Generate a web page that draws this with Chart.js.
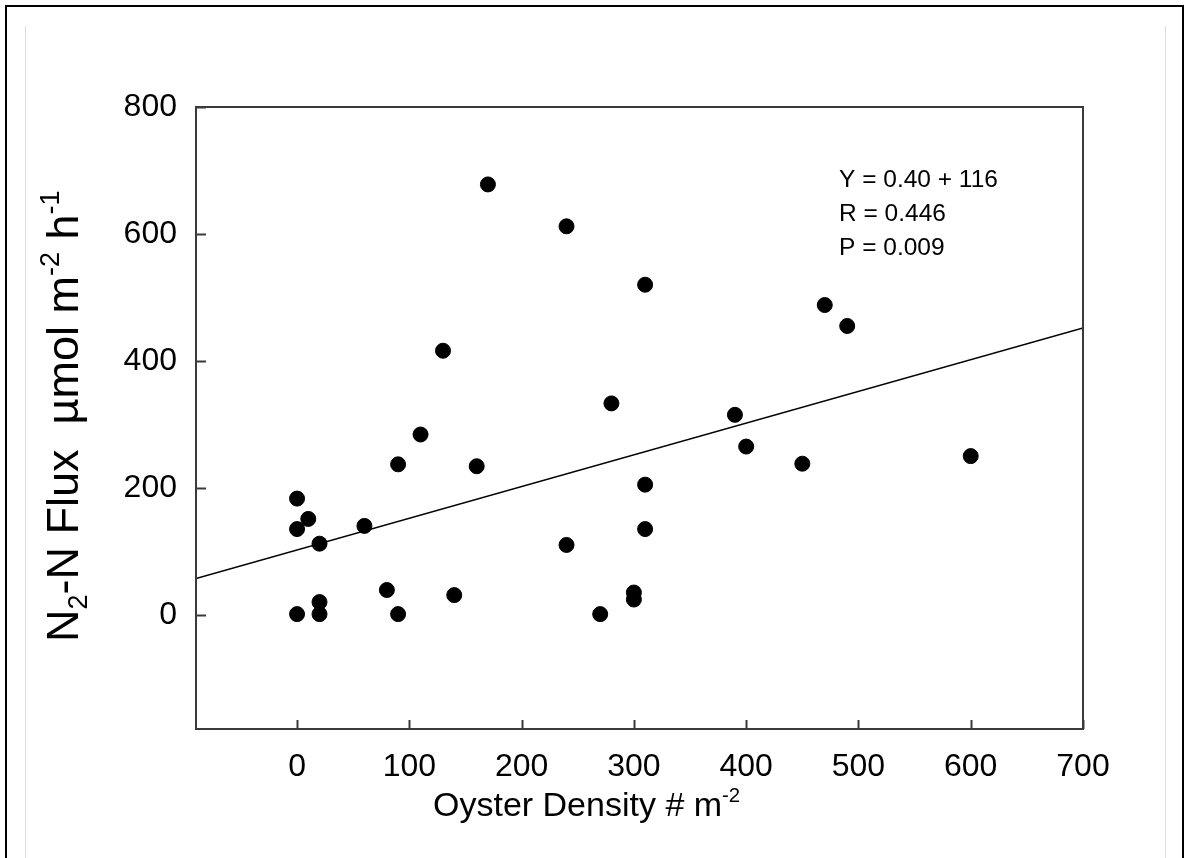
<!DOCTYPE html>
<html lang="en">
<head>
    <meta charset="UTF-8">
    <title>Oyster density vs N2-N flux</title>
    <script src="https://cdn.jsdelivr.net/npm/chart.js"></script>
    <style>
        body {
            margin: 0;
            padding: 0;
            background-color: #ffffff;
            font-family: "Liberation Sans", Arial, sans-serif;
        }

        .marco {
            position: absolute;
            left: 5px;
            top: 5px;
            width: 1179px;
            height: 900px;
            border: 2px solid #000;
            box-sizing: border-box;
        }

        .linea-gris {
            position: absolute;
            top: 26px;
            width: 1px;
            height: 840px;
            background-color: #dcdcdc;
        }

        canvas {
            position: absolute;
            left: 0;
            top: 0;
        }
    </style>
</head>
<body>

    <div class="marco"></div>
    <div class="linea-gris" style="left: 25px;"></div>
    <div class="linea-gris" style="left: 1165px;"></div>

    <canvas id="fluxChart" width="1187" height="858"></canvas>

    <script>
        // Data
        const oysterDensity = [170, 240, 130, 310, 470, 490, 280, 390,
                               110, 90, 160, 0, 10, 0, 60, 20, 240, 80, 140, 20, 0, 20, 90,
                               400, 450, 600, 310, 310, 300, 300, 270];
        const n2Flux = [678, 612, 416, 520, 488, 455, 333, 315,
                        284, 237, 234, 183, 151, 135, 140, 112, 110, 39, 31, 20, 1, 1, 1,
                        265, 238, 250, 205, 135, 35, 24, 1];

        // Regression line end points (as drawn)
        const fitLineX = [-90, 700];
        const fitLineY = [57, 452];

        // Axes
        const xTicks = [0, 100, 200, 300, 400, 500, 600, 700];
        const yTicks = [0, 200, 400, 600, 800];
        const xRange = [-90, 700];
        const yRange = [-180, 800];

        const statsText = ['Y = 0.40 + 116', 'R = 0.446', 'P = 0.009'];

        const FONT = '"Liberation Sans", Arial, sans-serif';

        // Text with sub/superscripts, parts = [[text, 'n'|'sub'|'sup'], ...]
        function drawRich(ctx, parts, x, y, size) {
            let cx = x;
            parts.forEach(([t, kind]) => {
                let s = size, dy = 0;
                if (kind === 'sub') { s = size * 0.6; dy = size * 0.2; }
                if (kind === 'sup') { s = size * 0.6; dy = -size * 0.42; }
                ctx.font = s + 'px ' + FONT;
                ctx.fillText(t, cx, y + dy);
                cx += ctx.measureText(t).width;
            });
            return cx - x;
        }

        const decoraciones = {
            id: 'decoraciones',
            afterDraw(chart) {
                const ctx = chart.ctx;
                const area = chart.chartArea;
                const xs = chart.scales.x;
                const ys = chart.scales.y;

                ctx.save();
                // frame
                ctx.strokeStyle = '#3a3a3a';
                ctx.lineWidth = 2;
                ctx.strokeRect(area.left, area.top, area.right - area.left, area.bottom - area.top);

                // inward tick marks
                ctx.beginPath();
                xTicks.forEach(v => {
                    const px = Math.round(xs.getPixelForValue(v)) + 0.5;
                    ctx.moveTo(px, area.bottom);
                    ctx.lineTo(px, area.bottom - 9);
                });
                yTicks.forEach(v => {
                    const py = Math.round(ys.getPixelForValue(v)) + 0.5;
                    ctx.moveTo(area.left, py);
                    ctx.lineTo(area.left + 10, py);
                });
                ctx.stroke();

                ctx.fillStyle = '#000';
                ctx.textBaseline = 'alphabetic';
                ctx.textAlign = 'left';

                // stats box
                ctx.font = '24.5px ' + FONT;
                statsText.forEach((t, i) => {
                    ctx.fillText(t, area.left + 643, area.top + 80 + i * 34);
                });

                // x title
                drawRich(ctx, [['Oyster Density # m', 'n'], ['-2', 'sup']], 433, 816, 34);

                // y title (rotated)
                ctx.translate(78, 642);
                ctx.rotate(-Math.PI / 2);
                drawRich(ctx, [
                    ['N', 'n'], ['2', 'sub'], ['-N Flux  \u00b5mol m', 'n'],
                    ['-2', 'sup'], [' h', 'n'], ['-1', 'sup']
                ], 0, 0, 45);
                ctx.restore();
            }
        };

        const ctx = document.getElementById('fluxChart').getContext('2d');

        const fluxChart = new Chart(ctx, {
            type: 'scatter',
            data: {
                datasets: [
                    {
                        type: 'line',
                        data: fitLineX.map((x, i) => ({ x: x, y: fitLineY[i] })),
                        borderColor: '#000',
                        borderWidth: 1.5,
                        pointRadius: 0,
                        fill: false,
                        order: 2
                    },
                    {
                        data: oysterDensity.map((x, i) => ({ x: x, y: n2Flux[i] })),
                        backgroundColor: '#000',
                        borderColor: '#000',
                        pointRadius: 7.5,
                        pointHoverRadius: 7.5,
                        order: 1
                    }
                ]
            },
            options: {
                responsive: false,
                animation: false,
                devicePixelRatio: 1,
                layout: {
                    padding: { left: 0, top: 107, right: 104, bottom: 0 }
                },
                plugins: {
                    legend: { display: false },
                    tooltip: { enabled: false }
                },
                scales: {
                    x: {
                        type: 'linear',
                        min: xRange[0],
                        max: xRange[1],
                        grid: { display: false, drawTicks: false },
                        border: { display: false },
                        afterBuildTicks: s => { s.ticks = xTicks.map(v => ({ value: v })); },
                        afterFit: s => { s.height = 129; },
                        ticks: {
                            padding: 19,
                            color: '#000',
                            maxRotation: 0,
                            font: { family: FONT, size: 32 }
                        }
                    },
                    y: {
                        type: 'linear',
                        min: yRange[0],
                        max: yRange[1],
                        grid: { display: false, drawTicks: false },
                        border: { display: false },
                        afterBuildTicks: s => { s.ticks = yTicks.map(v => ({ value: v })); },
                        afterFit: s => { s.width = 196; },
                        ticks: {
                            padding: 19,
                            color: '#000',
                            font: { family: FONT, size: 32 }
                        }
                    }
                }
            },
            plugins: [decoraciones]
        });
    </script>

</body>
</html>
